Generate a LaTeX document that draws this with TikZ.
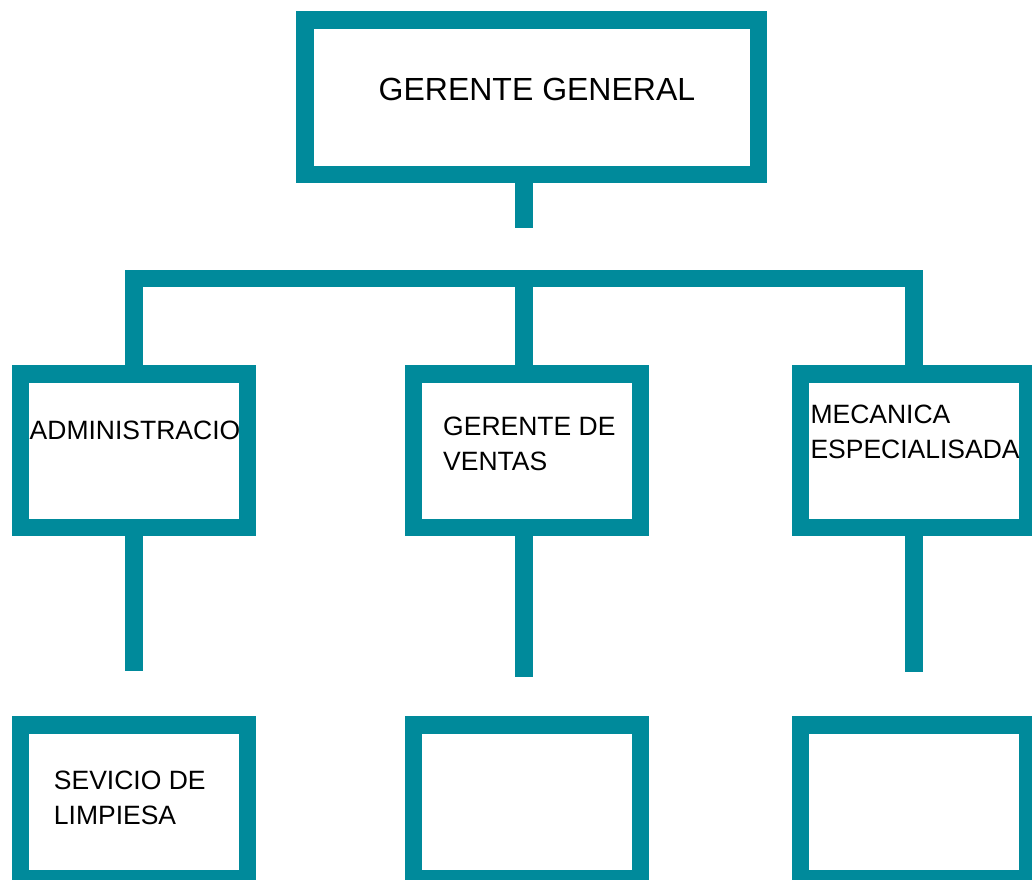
\documentclass[tikz,border=0pt]{standalone}
\usepackage{fontspec}
\setmainfont{Liberation Sans}
\definecolor{orgteal}{RGB}{0,138,155}
\begin{document}
\begin{tikzpicture}[x=1pt,y=-1pt]
	\tikzstyle{block} = [rectangle,draw=orgteal,line width=17.5pt,inner sep=0pt,minimum width=227pt,minimum height=153.5pt]
	\tikzstyle{conn} = [draw=orgteal,line width=17.5pt,line join=miter]
	\tikzstyle{txt} = [anchor=base west,inner sep=0pt,align=left,font=\fontsize{26.5}{34.8}\selectfont]
	\useasboundingbox (0,0) rectangle (1032,879);
	\node[block,minimum width=453.5pt,minimum height=154.5pt](general)at(531.5,97){};
	\node[block](admin)at(134,450.5){};
	\node[block](ventas)at(527,450.5){};
	\node[block](mecanica)at(914,450.5){};
	\node[block](servicio)at(134,801.7){};
	\node[block](ventas-b)at(527,801.7){};
	\node[block](mecanica-b)at(914,801.7){};
	\node[txt,font=\fontsize{32}{38}\selectfont](t-general)at(378.5,100.7){GERENTE GENERAL};
	\node[txt](t-admin)at(29.5,439.3){ADMINISTRACIO};
	\node[txt](t-ventas)at(443,470.7){GERENTE DE\\VENTAS};
	\node[txt](t-mecanica)at(810.3,458.3){MECANICA\\ESPECIALISADA};
	\node[txt](t-servicio)at(53.7,824){SEVICIO DE\\LIMPIESA};
	\coordinate (stem) at (524,228);
	\coordinate (bar) at (524,278.5);
	\coordinate (admin-end) at (134,671);
	\coordinate (ventas-end) at (524,677);
	\coordinate (mecanica-end) at (914,671.5);
	\path[conn] (general.south -| stem) -- (stem);
	\path[conn] (admin.north) |- (bar) -| (mecanica.north);
	\path[conn] (bar) -- (bar |- ventas.north);
	\path[conn] (admin.south) -- (admin-end);
	\path[conn] (ventas.south -| ventas-end) -- (ventas-end);
	\path[conn] (mecanica.south) -- (mecanica-end);
	\end{tikzpicture}
\end{document}
